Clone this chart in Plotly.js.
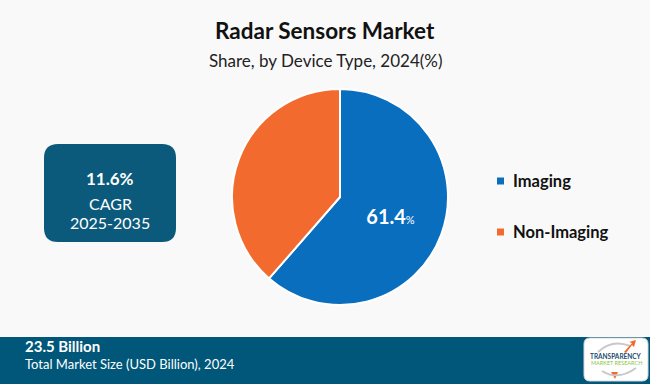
<!DOCTYPE html>
<html><head><meta charset="utf-8">
<script src="https://cdn.plot.ly/plotly-3.0.1.min.js"></script>
<style>html,body{margin:0;padding:0;background:#f9f9f9;}#chart{width:650px;height:384px;}</style>
</head><body><div id="chart"></div>
<script>
const categories = ["Imaging", "Non-Imaging"];
const shares = [61.4, 38.6];
const colors = ["#0A6EBF", "#F26A2E"];
const titleText = "Radar Sensors Market";
const subtitleText = "Share, by Device Type, 2024(%)";
const cagrValue = "11.6%";
const cagrPeriod = "2025-2035";
const marketSize = "23.5 Billion";
const marketLabel = "Total Market Size (USD Billion), 2024";

const W = 650, H = 384;
const px = x => x / W, py = y => 1 - y / H;

const trace = {
  type: "pie",
  labels: categories,
  values: shares,
  sort: false,
  direction: "clockwise",
  rotation: 0,
  marker: {colors: colors, line: {color: "#ffffff", width: 2}},
  texttemplate: categories.map((c, i) => i === 0 ? "<b>%{value}</b><span style='font-size:11px'>%</span>" : ""),
  textposition: "inside",
  insidetextorientation: "horizontal",
  textfont: {family: "Lato, sans-serif", size: 20, color: "#ffffff"},
  hoverinfo: "none",
  showlegend: false,
  domain: {x: [px(232), px(448)], y: [py(305), py(89)]}
};

function roundRect(x0, y0, x1, y1, r) {
  const X = v => px(v), Y = v => py(v);
  return `M ${X(x0 + r)} ${Y(y0)} L ${X(x1 - r)} ${Y(y0)} Q ${X(x1)} ${Y(y0)} ${X(x1)} ${Y(y0 + r)} L ${X(x1)} ${Y(y1 - r)} Q ${X(x1)} ${Y(y1)} ${X(x1 - r)} ${Y(y1)} L ${X(x0 + r)} ${Y(y1)} Q ${X(x0)} ${Y(y1)} ${X(x0)} ${Y(y1 - r)} L ${X(x0)} ${Y(y0 + r)} Q ${X(x0)} ${Y(y0)} ${X(x0 + r)} ${Y(y0)} Z`;
}

const shapes = [
  {type: "rect", xref: "paper", yref: "paper", x0: 0, x1: 1, y0: 0, y1: py(337), fillcolor: "#005779", line: {width: 0}, layer: "below"},
  {type: "path", xref: "paper", yref: "paper", layer: "below", fillcolor: "#0B5A7C", line: {width: 0}, path: roundRect(44, 144, 176, 242, 14)},
  {type: "path", xref: "paper", yref: "paper", layer: "below", fillcolor: "#ffffff", line: {color: "#d8d8d8", width: 1}, path: roundRect(584, 338, 648, 381, 6)},
  {type: "path", xref: "paper", yref: "paper", fillcolor: "rgba(0,0,0,0)", line: {color: "#c8c8c8", width: 2},
   path: `M ${px(598)} ${py(352)} Q ${px(612)} ${py(339)} ${px(630)} ${py(346)}`},
  {type: "path", xref: "paper", yref: "paper", fillcolor: "#F26A2E", line: {width: 0},
   path: `M ${px(624)} ${py(352)} L ${px(632)} ${py(343)} L ${px(629)} ${py(342)} L ${px(636)} ${py(340)} L ${px(634)} ${py(347)} L ${px(632)} ${py(345)} L ${px(626)} ${py(353)} Z`},
  {type: "path", xref: "paper", yref: "paper", fillcolor: "#F26A2E", line: {width: 0},
   path: `M ${px(611)} ${py(372)} L ${px(615)} ${py(379)} L ${px(618)} ${py(372)} Z`},
  {type: "path", xref: "paper", yref: "paper", fillcolor: "rgba(0,0,0,0)", line: {color: "#c8c8c8", width: 2},
   path: `M ${px(602)} ${py(371)} Q ${px(618)} ${py(381)} ${px(636)} ${py(368)}`}
];

const legendY = [181, 232];
categories.forEach((c, i) => {
  shapes.push({type: "rect", xref: "paper", yref: "paper", x0: px(497), x1: px(504), y0: py(legendY[i] + 3.5), y1: py(legendY[i] - 3.5), fillcolor: colors[i], line: {width: 0}});
});

const A = (text, x, y, size, color, xanchor, family) => ({
  text, x: px(x), y: py(y), xref: "paper", yref: "paper", xanchor: xanchor || "center", yanchor: "middle",
  showarrow: false, font: {family: family || "Lato, sans-serif", size, color}
});

const annotations = [
  A("<b>" + titleText + "</b>", 325, 31, 22.5, "#111111"),
  A(subtitleText, 325, 61, 17, "#222222"),
  A("<b>" + cagrValue + "</b>", 110, 178, 17, "#ffffff"),
  A("CAGR", 110, 203, 16, "#ffffff"),
  A(cagrPeriod, 110, 222, 16, "#ffffff"),
  A("<b>" + marketSize + "</b>", 23, 345.5, 15, "#ffffff", "left"),
  A(marketLabel, 23, 364, 13, "#ffffff", "left"),
  A("<b>TRANSPARENCY</b>", 616, 356, 6.5, "#1a4d6e"),
  A("MARKET RESEARCH", 616, 363, 5.5, "#8cc63f"),
  A("<b>" + categories[0] + "</b>", 511, legendY[0], 16.5, "#111111", "left"),
  A("<b>" + categories[1] + "</b>", 511, legendY[1], 16.5, "#111111", "left")
];

const layout = {
  width: W, height: H,
  margin: {l: 0, r: 0, t: 0, b: 0},
  paper_bgcolor: "#f9f9f9",
  plot_bgcolor: "#f9f9f9",
  showlegend: false,
  shapes: shapes,
  annotations: annotations
};

Plotly.newPlot("chart", [trace], layout, {displayModeBar: false, staticPlot: true});
</script>
</body></html>
